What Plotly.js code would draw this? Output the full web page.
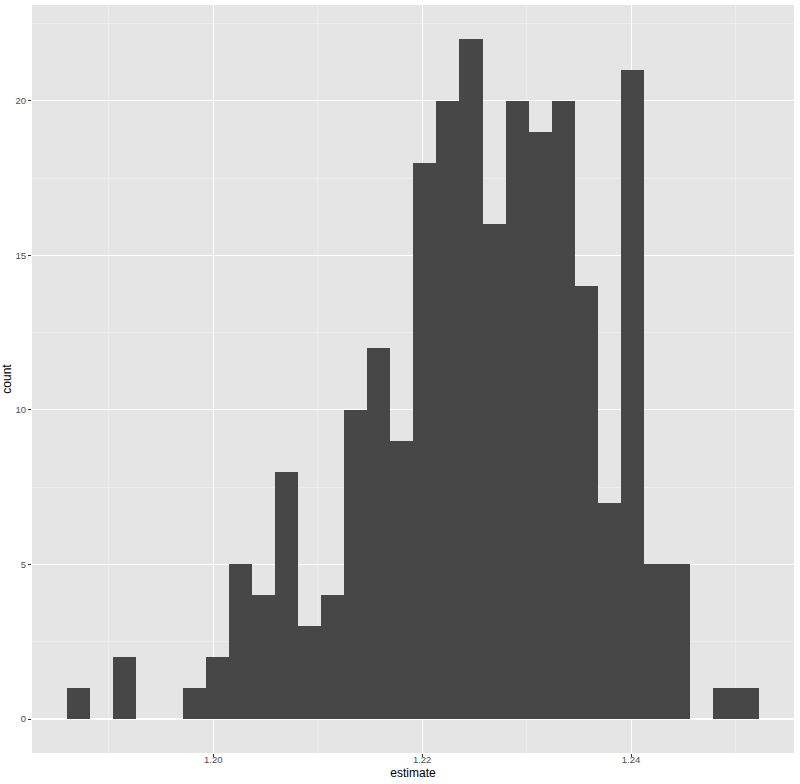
<!DOCTYPE html>
<html>
<head>
<meta charset="utf-8">
<script src="https://cdn.plot.ly/plotly-3.0.1.min.js"></script>
<style>
  html, body { margin: 0; padding: 0; background: #ffffff; }
  #plot { width: 800px; height: 784px; }
</style>
</head>
<body>
<div id="plot"></div>
<script>
// histogram of estimates, 30 bins
var binStart = 1.18713;   // centre of the first bin
var binWidth = 0.0022086;
var counts = [1, 0, 2, 0, 0, 1, 2, 5, 4, 8,
              3, 4, 10, 12, 9, 18, 20, 22, 16, 20,
              19, 20, 14, 7, 21, 5, 5, 0, 1, 1];

var xTicks = [1.20, 1.22, 1.24];
var yTicks = [0, 5, 10, 15, 20];

var font = 'Liberation Sans, Arial, Helvetica, sans-serif';

var data = [{
    type: 'bar',
    x0: binStart,
    dx: binWidth,
    y: counts,
    marker: {color: '#474747', line: {width: 0}},
    hoverinfo: 'x+y'
}];

var layout = {
    width: 800,
    height: 784,
    margin: {l: 32, r: 6, t: 5, b: 31},
    paper_bgcolor: '#ffffff',
    plot_bgcolor: '#E5E5E5',
    bargap: 0,
    showlegend: false,
    font: {family: font, color: '#4D4D4D'},
    xaxis: {
        range: [1.182651, 1.255598],
        tickvals: xTicks,
        tickformat: '.2f',
        ticks: 'outside',
        ticklen: 3,
        tickwidth: 1,
        tickcolor: '#333333',
        ticklabelstandoff: -5,
        tickfont: {size: 9.5, color: '#4D4D4D', family: font},
        showgrid: true,
        gridcolor: '#ffffff',
        gridwidth: 1.1,
        minor: {dtick: 0.01, tick0: 1.19, showgrid: true, gridcolor: '#F2F2F2', gridwidth: 0.6, ticks: ''},
        zeroline: false,
        showline: false,
        automargin: false,
        title: {text: 'estimate', font: {size: 12, color: '#000000', family: font}, standoff: 4}
    },
    yaxis: {
        range: [-1.1, 23.1],
        tickvals: yTicks,
        ticks: 'outside',
        ticklen: 3,
        tickwidth: 1,
        tickcolor: '#333333',
        tickfont: {size: 9.5, color: '#4D4D4D', family: font},
        showgrid: true,
        gridcolor: '#ffffff',
        gridwidth: 1.1,
        minor: {dtick: 2.5, tick0: 0, showgrid: true, gridcolor: '#F2F2F2', gridwidth: 0.6, ticks: ''},
        zeroline: false,
        showline: false,
        automargin: false,
        title: {text: 'count', font: {size: 12, color: '#000000', family: font}, standoff: 2}
    }
};

Plotly.newPlot('plot', data, layout, {displayModeBar: false, staticPlot: true});
</script>
</body>
</html>
